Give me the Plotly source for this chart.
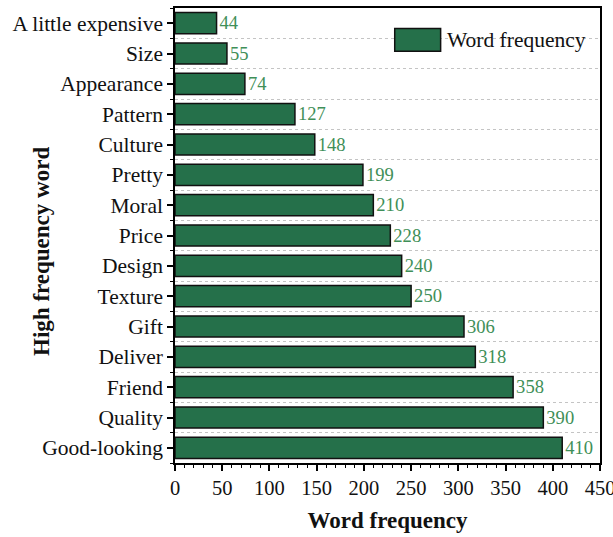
import plotly.graph_objects as go

# Word frequency of high-frequency words (top of chart first)
words = ["A little expensive", "Size", "Appearance", "Pattern", "Culture",
         "Pretty", "Moral", "Price", "Design", "Texture", "Gift", "Deliver",
         "Friend", "Quality", "Good-looking"]
counts = [44, 55, 74, 127, 148, 199, 210, 228, 240, 250, 306, 318, 358, 390, 410]
x_ticks = [0, 50, 100, 150, 200, 250, 300, 350, 400, 450]

bar_fill = "#25704a"
label_green = "#3f8f58"
serif = "Liberation Serif, Times New Roman, serif"

n = len(words)
# numeric positions so that the first word sits at the top
ypos = [n - 1 - i for i in range(n)]

fig = go.Figure()
fig.add_trace(go.Bar(
    x=counts, y=ypos, orientation="h", width=0.7,
    marker=dict(color=bar_fill, line=dict(color="#111111", width=1.5)),
    text=[str(c) for c in counts], textposition="outside",
    textfont=dict(family=serif, size=21, color=label_green),
    cliponaxis=False, name="Word frequency", showlegend=False,
))

fig.update_layout(
    width=613, height=537,
    margin=dict(l=175, r=13, t=8, b=74),
    plot_bgcolor="white", paper_bgcolor="white",
    font=dict(family=serif, size=21, color="#111111"),
)

fig.update_xaxes(
    range=[0, 450], tickvals=x_ticks, ticktext=[str(v) for v in x_ticks],
    showline=True, linecolor="black", linewidth=1.5, mirror=True,
    ticks="outside", ticklen=6, tickwidth=1.5, tickcolor="black",
    minor=dict(dtick=10, ticks="outside", ticklen=3, tickcolor="black", tickwidth=1),
    showgrid=False, zeroline=False, ticklabeloverflow="allow", automargin=False,
    tickfont=dict(size=20.5),
    title=dict(text="<b>Word frequency</b>", font=dict(size=23), standoff=14),
)
fig.update_yaxes(
    range=[-0.5, n - 0.5], tickvals=ypos, ticktext=words,
    showline=True, linecolor="black", linewidth=1.5, mirror=True,
    ticks="outside", ticklen=6, tickwidth=1.5, tickcolor="black",
    minor=dict(tick0=0.5, dtick=1, ticks="outside", ticklen=3, tickcolor="black",
               tickwidth=1, showgrid=True, gridcolor="#c4c4c4", griddash="dot",
               gridwidth=1),
    showgrid=False, zeroline=False, automargin=False, ticklabeloverflow="allow",
    tickfont=dict(size=21.5),
)

# y-axis title, placed by hand beside the tick labels
fig.add_annotation(xref="paper", yref="paper", x=-0.313, y=0.466,
                   text="<b>High frequency word</b>", textangle=-90,
                   showarrow=False, xanchor="center", yanchor="middle",
                   font=dict(family=serif, size=23, color="#111111"))

# legend: swatch plus label in the upper right of the plot area
fig.add_shape(type="rect", xref="paper", yref="paper",
              x0=0.517, x1=0.625, y0=0.905, y1=0.955,
              fillcolor=bar_fill, line=dict(color="#111111", width=1.5))
fig.add_annotation(xref="paper", yref="paper", x=0.635, y=0.93,
                   text="Word frequency", showarrow=False, xanchor="left",
                   yanchor="middle", font=dict(family=serif, size=21.5, color="#111111"))

fig.write_html("out.html")
